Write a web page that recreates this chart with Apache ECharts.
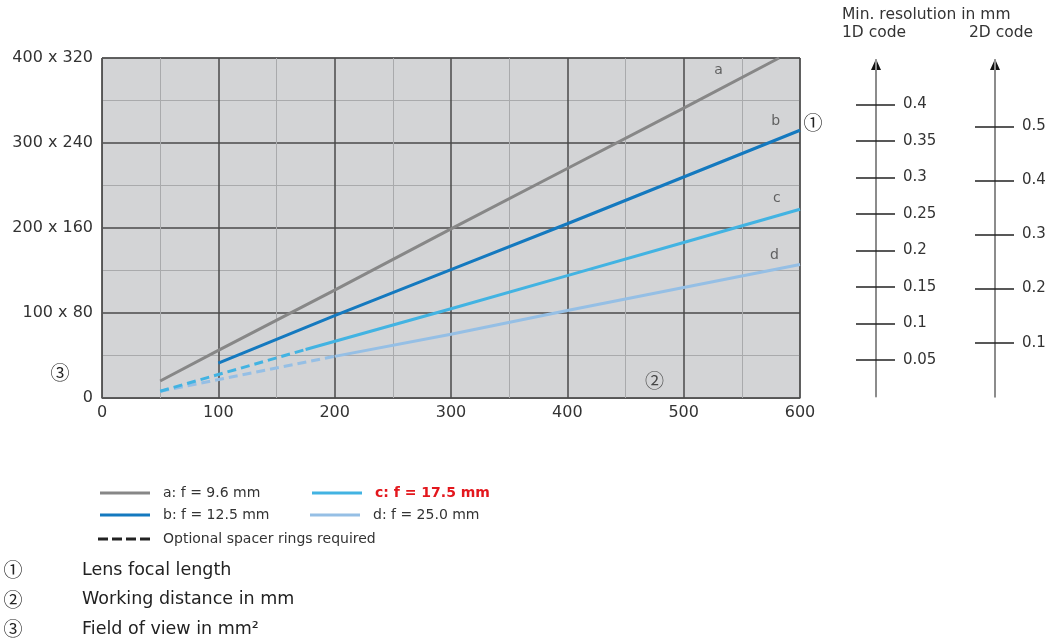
<!DOCTYPE html>
<html><head><meta charset="utf-8">
<script src="https://cdn.jsdelivr.net/npm/echarts@6/dist/echarts.min.js"></script>
<style>html,body{margin:0;padding:0;background:#fff}#c{width:1055px;height:641px}</style>
</head><body><div id="c"></div>
<script>
// ---- data ----
const xTicks = [0, 100, 200, 300, 400, 500, 600];          // working distance (mm)
const yTicks = [0, 100, 200, 300, 400];
const yTickLabels = ['0', '100 x 80', '200 x 160', '300 x 240', '400 x 320'];

const lineA = [[50, 20], [100, 56], [200, 127], [300, 199], [400, 270], [500, 341], [582, 400]];
const lineB = [[100, 41], [200, 97], [300, 151], [400, 205], [500, 260], [600, 315]];
const lineCdash = [[50, 8], [175, 57]];
const lineC = [[175, 57], [300, 105], [400, 144], [500, 183], [600, 222]];
const lineDdash = [[50, 8], [200, 49]];
const lineD = [[200, 49], [300, 75], [400, 103], [500, 130], [600, 157]];

const curveLabels = [[530, 385, 'a'], [579, 325, 'b'], [580, 235, 'c'], [578, 168, 'd']];
const plotMarker = [[475, 20, '②']];

const names = ['a: f = 9.6 mm', 'b: f = 12.5 mm', 'c: f = 17.5 mm', 'd: f = 25.0 mm', 'Optional spacer rings required'];
const colors = ['#878787', '#1479bf', '#42b3e2', '#95bfe5'];

const res1D = [0.05, 0.1, 0.15, 0.2, 0.25, 0.3, 0.35, 0.4];
const res1DMax = 0.4606;
const res2D = [0.1, 0.2, 0.3, 0.4, 0.5];
const res2DMax = 0.6225;

const notes = [['①', 'Lens focal length'], ['②', 'Working distance in mm'], ['③', 'Field of view in mm²']];

// ---- chart ----
const FONT = 'DejaVu Sans, Noto Sans CJK JP, sans-serif';
const CIRC = 'Noto Sans CJK JP, DejaVu Sans, sans-serif';
const chart = echarts.init(document.getElementById('c'), null, {renderer: 'canvas'});

const ax1X = 876, ax2X = 995, axTop = 60;

function resAxes(gridIndex, max, vals) {
  return [
    { gridIndex, type: 'value', min: 0, max, position: 'left',
      axisLine: { show: true, lineStyle: { color: '#8c8c8c', width: 2 } },
      axisTick: { show: true, inside: false, length: 20, customValues: vals, lineStyle: { color: '#222', width: 1.5 } },
      axisLabel: { show: false }, splitLine: { show: false } },
    { gridIndex, type: 'value', min: 0, max, position: 'left', offset: 0,
      axisLine: { show: false },
      axisTick: { show: true, inside: true, length: 19, customValues: vals, lineStyle: { color: '#222', width: 1.5 } },
      axisLabel: { show: true, inside: true, margin: 27, customValues: vals, color: '#333', fontSize: 15, fontFamily: FONT,
        formatter: v => String(v) },
      splitLine: { show: false } }
  ];
}

const lineSeries = (name, data, color, dashed) => ({
  type: 'line', name, data, xAxisIndex: 0, yAxisIndex: 0, symbol: 'none', silent: true,
  lineStyle: { color, width: 3, type: dashed ? [9, 5] : 'solid' }, itemStyle: { color }, z: 3
});

const SOLID_ICON = 'path://M0,0L50,0L50,3L0,3Z';
const DASH_ICON = 'path://M0,0h10v3h-10zM14,0h10v3h-10zM28,0h10v3h-10zM42,0h10v3h-10z';
const legendText = { color: '#333', fontSize: 14, fontFamily: FONT, padding: [0, 0, 0, 8] };
const mkLegend = (name, left, top, color, extra) => ({
  data: [{ name, icon: extra && extra.dash ? DASH_ICON : SOLID_ICON, itemStyle: { color } }],
  left, top, padding: 0, itemWidth: extra && extra.dash ? 52 : 50, itemHeight: 3.5,
  selectedMode: false, textStyle: Object.assign({}, legendText, extra && extra.textStyle ? extra.textStyle : {})
});

chart.setOption({
  animation: false,
  textStyle: { fontFamily: FONT },
  grid: [
    { left: 102, right: 1055 - 800, top: 58, bottom: 641 - 398, show: true, backgroundColor: '#d3d4d6', borderColor: '#555', borderWidth: 1 },
    { left: ax1X, width: 1, top: axTop, bottom: 641 - 396.5 },
    { left: ax2X, width: 1, top: axTop, bottom: 641 - 396.8 }
  ],
  xAxis: [
    { gridIndex: 0, type: 'value', min: xTicks[0], max: xTicks[xTicks.length - 1], interval: xTicks[1] - xTicks[0],
      axisLine: { show: true, lineStyle: { color: '#555', width: 1 } }, axisTick: { show: false },
      axisLabel: { color: '#333', fontSize: 16, fontFamily: FONT, margin: 7 },
      splitLine: { show: true, lineStyle: { color: '#4a4a4a', width: 1.5 } },
      minorTick: { show: false, splitNumber: 2 },
      minorSplitLine: { show: true, lineStyle: { color: '#a9aaac', width: 1 } } },
    { gridIndex: 1, type: 'value', show: false },
    { gridIndex: 2, type: 'value', show: false }
  ],
  yAxis: [
    { gridIndex: 0, type: 'value', min: yTicks[0], max: yTicks[yTicks.length - 1], interval: yTicks[1] - yTicks[0],
      axisLine: { show: true, lineStyle: { color: '#555', width: 1 } }, axisTick: { show: false },
      axisLabel: { color: '#333', fontSize: 16, fontFamily: FONT, margin: 9,
        formatter: v => yTickLabels[yTicks.indexOf(v)] },
      splitLine: { show: true, lineStyle: { color: '#4a4a4a', width: 1.5 } },
      minorTick: { show: false, splitNumber: 2 },
      minorSplitLine: { show: true, lineStyle: { color: '#a9aaac', width: 1 } } },
    ...resAxes(1, res1DMax, res1D),
    ...resAxes(2, res2DMax, res2D)
  ],
  legend: [
    mkLegend(names[0], 100, 486, colors[0]),
    mkLegend(names[2], 312, 486, colors[2], { textStyle: { color: '#e3171d', fontWeight: 'bold' } }),
    mkLegend(names[1], 100, 508, colors[1]),
    mkLegend(names[3], 310, 508, colors[3]),
    mkLegend(names[4], 98, 532, '#222', { dash: true })
  ],
  graphic: [
    { type: 'polygon', shape: { points: [[ax1X - 5, axTop + 10], [ax1X + 5, axTop + 10], [ax1X, axTop - 1]] }, style: { fill: '#111' } },
    { type: 'polygon', shape: { points: [[ax2X - 5, axTop + 10], [ax2X + 5, axTop + 10], [ax2X, axTop - 1]] }, style: { fill: '#111' } },
    { type: 'text', left: 842, top: 7, style: { text: 'Min. resolution in mm', fill: '#333', font: '15.5px ' + FONT } },
    { type: 'text', left: 842, top: 25, style: { text: '1D code', fill: '#333', font: '15.5px ' + FONT } },
    { type: 'text', left: 969, top: 25, style: { text: '2D code', fill: '#333', font: '15.5px ' + FONT } },
    { type: 'text', x: 813, y: 123, style: { text: '①', fill: '#222', font: '19px ' + CIRC, align: 'center', verticalAlign: 'middle' } },
    { type: 'text', x: 60, y: 373, style: { text: '③', fill: '#222', font: '19px ' + CIRC, align: 'center', verticalAlign: 'middle' } },
    ...notes.map((n, i) => ({ type: 'text', x: 13, y: 570 + i * 29.5, style: { text: n[0], fill: '#222', font: '19px ' + CIRC, align: 'center', verticalAlign: 'middle' } })),
    ...notes.map((n, i) => ({ type: 'text', x: 82, y: 570 + i * 29.5, style: { text: n[1], fill: '#222', font: '17.5px ' + FONT, align: 'left', verticalAlign: 'middle' } }))
  ],
  series: [
    lineSeries(names[0], lineA, colors[0], false),
    lineSeries(names[1], lineB, colors[1], false),
    lineSeries(names[2], lineC, colors[2], false),
    lineSeries(names[3], lineD, colors[3], false),
    lineSeries(names[4], lineDdash, colors[3], true),
    lineSeries(names[4], lineCdash, colors[2], true),
    { type: 'scatter', name: 'labels', xAxisIndex: 0, yAxisIndex: 0, symbolSize: 0, silent: true,
      data: curveLabels.map(d => ({ value: [d[0], d[1]], name: d[2] })),
      label: { show: true, position: 'inside', formatter: p => p.name, color: '#444', fontSize: 14, fontFamily: FONT }, z: 5 },
    { type: 'scatter', name: 'marker', xAxisIndex: 0, yAxisIndex: 0, symbolSize: 0, silent: true,
      data: plotMarker.map(d => ({ value: [d[0], d[1]], name: d[2] })),
      label: { show: true, position: 'inside', formatter: p => p.name, color: '#222', fontSize: 19, fontFamily: CIRC }, z: 5 }
  ]
});
</script></body></html>
